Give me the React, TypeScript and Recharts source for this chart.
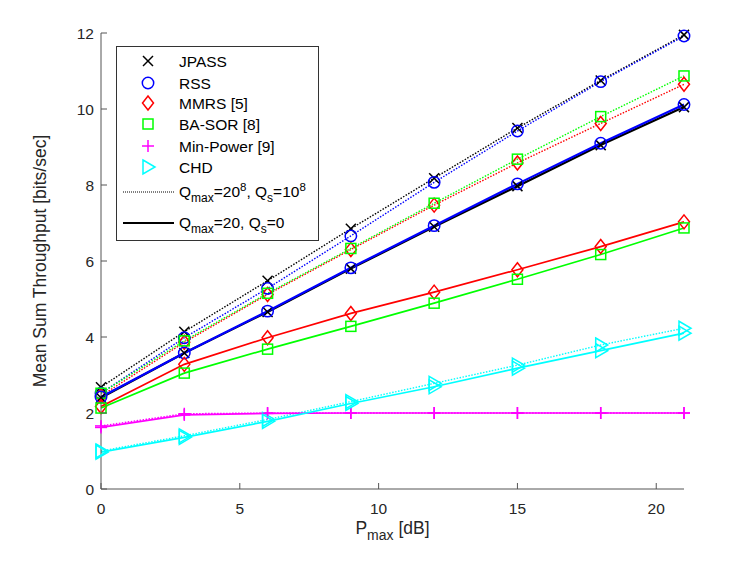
import { LineChart, Line, XAxis, YAxis, Legend, Label } from "recharts"

const pmax = [0, 3, 6, 9, 12, 15, 18, 21]

// dotted = Qmax=20^8, Qs=10^8 ; solid = Qmax=20, Qs=0
const jpassHi = [2.68, 4.14, 5.48, 6.85, 8.18, 9.5, 10.75, 11.95]
const jpassLo = [2.4, 3.58, 4.66, 5.8, 6.9, 7.97, 9.05, 10.05]
const rssHi = [2.52, 3.98, 5.28, 6.66, 8.07, 9.42, 10.72, 11.92]
const rssLo = [2.42, 3.58, 4.68, 5.82, 6.93, 8.03, 9.1, 10.12]
const mmrsHi = [2.45, 3.86, 5.12, 6.3, 7.47, 8.58, 9.62, 10.65]
const mmrsLo = [2.17, 3.28, 3.98, 4.62, 5.18, 5.77, 6.38, 7.03]
const basorHi = [2.52, 3.9, 5.15, 6.33, 7.52, 8.68, 9.8, 10.87]
const basorLo = [2.13, 3.05, 3.68, 4.28, 4.89, 5.52, 6.17, 6.87]
const minPowHi = [1.66, 1.98, 2.0, 2.0, 2.0, 2.0, 2.0, 2.0]
const minPowLo = [1.62, 1.95, 1.99, 2.0, 2.0, 2.0, 2.0, 2.0]
const chdHi = [1.0, 1.4, 1.83, 2.3, 2.78, 3.26, 3.79, 4.23]
const chdLo = [0.97, 1.36, 1.78, 2.25, 2.69, 3.18, 3.64, 4.1]

const xTicks = [0, 5, 10, 15, 20]
const yTicks = [0, 2, 4, 6, 8, 10, 12]

type Shape = "x" | "circle" | "diamond" | "square" | "plus" | "tri"

const series: { key: string; name: string; color: string; shape: Shape; hi: number[]; lo: number[] }[] = [
  { key: "jpass", name: "JPASS", color: "#000000", shape: "x", hi: jpassHi, lo: jpassLo },
  { key: "rss", name: "RSS", color: "#0000ff", shape: "circle", hi: rssHi, lo: rssLo },
  { key: "mmrs", name: "MMRS [5]", color: "#ff0000", shape: "diamond", hi: mmrsHi, lo: mmrsLo },
  { key: "basor", name: "BA-SOR [8]", color: "#00ff00", shape: "square", hi: basorHi, lo: basorLo },
  { key: "minpow", name: "Min-Power [9]", color: "#ff00ff", shape: "plus", hi: minPowHi, lo: minPowLo },
  { key: "chd", name: "CHD", color: "#00ffff", shape: "tri", hi: chdHi, lo: chdLo },
]

const data = pmax.map((p, i) => {
  const row: Record<string, number> = { p }
  series.forEach((s) => {
    row[s.key + "Hi"] = s.hi[i]
    row[s.key + "Lo"] = s.lo[i]
  })
  return row
})

const FONT = "'Liberation Sans', Arial, Helvetica, sans-serif"
const AXIS = "#555555"
const TEXT = "#262626"

function Marker({ cx, cy, shape, color }: { cx: number; cy: number; shape: Shape; color: string }) {
  const sw = 1.5
  switch (shape) {
    case "x":
      return (
        <g stroke={color} strokeWidth={sw} fill="none">
          <line x1={cx - 5} y1={cy - 5} x2={cx + 5} y2={cy + 5} />
          <line x1={cx - 5} y1={cy + 5} x2={cx + 5} y2={cy - 5} />
        </g>
      )
    case "circle":
      return <circle cx={cx} cy={cy} r={5.7} stroke={color} strokeWidth={sw} fill="none" />
    case "diamond":
      return (
        <polygon
          points={`${cx},${cy - 7} ${cx + 5.5},${cy} ${cx},${cy + 7} ${cx - 5.5},${cy}`}
          stroke={color}
          strokeWidth={sw}
          fill="none"
        />
      )
    case "square":
      return <rect x={cx - 5} y={cy - 5} width={10} height={10} stroke={color} strokeWidth={sw} fill="none" />
    case "plus":
      return (
        <g stroke={color} strokeWidth={sw}>
          <line x1={cx - 6} y1={cy} x2={cx + 6} y2={cy} />
          <line x1={cx} y1={cy - 6} x2={cx} y2={cy + 6} />
        </g>
      )
    default:
      return (
        <polygon
          points={`${cx - 5},${cy - 7} ${cx + 7},${cy} ${cx - 5},${cy + 7}`}
          stroke={color}
          strokeWidth={sw}
          fill="none"
        />
      )
  }
}

const makeDot = (shape: Shape, color: string) => (props: any) =>
  <Marker key={props.index} cx={props.cx} cy={props.cy} shape={shape} color={color} />

const BottomTick = ({ x, y, payload }: any) => (
  <g>
    <line x1={x} x2={x} y1={y - 9} y2={y - 15} stroke={AXIS} />
    <text x={x} y={y + 16} textAnchor="middle" fill={TEXT} fontSize={15.5} fontFamily={FONT}>
      {payload.value}
    </text>
  </g>
)

const LeftTick = ({ x, y, payload }: any) => (
  <g>
    <line x1={x + 7} x2={x + 13} y1={y} y2={y} stroke={AXIS} />
    <text x={x} y={y} dy="0.36em" textAnchor="end" fill={TEXT} fontSize={15.5} fontFamily={FONT}>
      {payload.value}
    </text>
  </g>
)

const TopTick = ({ x, y }: any) => <line x1={x} x2={x} y1={y} y2={y + 6} stroke={AXIS} />
const RightTick = ({ x, y }: any) => <line x1={x} x2={x - 6} y1={y} y2={y} stroke={AXIS} />

const XTitle = ({ viewBox }: any) => (
  <text x={viewBox.x + viewBox.width / 2} y={viewBox.y + 45} textAnchor="middle" fill={TEXT} fontSize={17.5} fontFamily={FONT}>
    P<tspan fontSize={14} dy={6}>max</tspan>
    <tspan dy={-6}> [dB]</tspan>
  </text>
)

const YTitle = ({ viewBox }: any) => {
  const cx = viewBox.x + 46
  const cy = viewBox.y + viewBox.height / 2
  return (
    <text x={cx} y={cy} transform={`rotate(-90 ${cx} ${cy})`} textAnchor="middle" fill={TEXT} fontSize={17.5} fontFamily={FONT}>
      Mean Sum Throughput [bits/sec]
    </text>
  )
}

function LegendBox() {
  const rows = [14, 36, 56, 77, 99, 120]
  return (
    <div style={{ width: 203, height: 195, border: "1px solid #333", background: "#fff", boxSizing: "border-box" }}>
      <svg width={201} height={193} style={{ display: "block", fontFamily: FONT }}>
        {series.map((s, i) => (
          <g key={s.key}>
            <Marker cx={31} cy={rows[i]} shape={s.shape} color={s.color} />
            <text x={62} y={rows[i]} dy="0.36em" fontSize={15.5} fill="#000">
              {s.name}
            </text>
          </g>
        ))}
        <line x1={6} x2={57} y1={145} y2={145} stroke="#000" strokeWidth={1.2} strokeDasharray="1 1" />
        <text x={62} y={150} fontSize={15.5} fill="#000">
          Q<tspan fontSize={12} dy={5}>max</tspan>
          <tspan dy={-5}>=20</tspan>
          <tspan fontSize={11.5} dy={-6}>8</tspan>
          <tspan dy={6}>, Q</tspan>
          <tspan fontSize={12} dy={5}>s</tspan>
          <tspan dy={-5}>=10</tspan>
          <tspan fontSize={11.5} dy={-6}>8</tspan>
        </text>
        <line x1={6} x2={57} y1={176} y2={176} stroke="#000" strokeWidth={1.8} />
        <text x={62} y={181} fontSize={15.5} fill="#000">
          Q<tspan fontSize={12} dy={5}>max</tspan>
          <tspan dy={-5}>=20, Q</tspan>
          <tspan fontSize={12} dy={5}>s</tspan>
          <tspan dy={-5}>=0</tspan>
        </text>
      </svg>
    </div>
  )
}

export default function App() {
  return (
    <div style={{ position: "absolute", left: 0, top: 0, width: 747, height: 561, background: "#fff" }}>
      <LineChart width={747} height={561} data={data} margin={{ top: 33, right: 63, left: 0, bottom: 0 }}>
        <XAxis
          dataKey="p"
          type="number"
          domain={[0, 21]}
          ticks={xTicks}
          height={72}
          tickSize={0}
          tickMargin={9}
          tick={<BottomTick />}
          axisLine={{ stroke: AXIS }}
          interval={0}
        >
          <Label content={<XTitle />} />
        </XAxis>
        <XAxis
          xAxisId="top"
          orientation="top"
          dataKey="p"
          type="number"
          domain={[0, 21]}
          ticks={xTicks}
          height={0}
          tickSize={0}
          tickMargin={0}
          tick={<TopTick />}
          axisLine={{ stroke: AXIS }}
          interval={0}
        />
        <YAxis
          type="number"
          domain={[0, 12]}
          ticks={yTicks}
          width={101}
          tickSize={0}
          tickMargin={7}
          tick={<LeftTick />}
          axisLine={{ stroke: AXIS }}
          interval={0}
        >
          <Label content={<YTitle />} />
        </YAxis>
        <YAxis
          yAxisId="right"
          orientation="right"
          type="number"
          domain={[0, 12]}
          ticks={yTicks}
          width={0}
          tickSize={0}
          tickMargin={0}
          tick={<RightTick />}
          axisLine={{ stroke: AXIS }}
          interval={0}
        />
        {series.map((s) => (
          <Line
            key={s.key + "Hi"}
            dataKey={s.key + "Hi"}
            stroke={s.color}
            strokeWidth={1.4}
            strokeDasharray="1.5 1.5"
            dot={makeDot(s.shape, s.color)}
            isAnimationActive={false}
            legendType="none"
          />
        ))}
        {series.map((s) => (
          <Line
            key={s.key + "Lo"}
            dataKey={s.key + "Lo"}
            stroke={s.color}
            strokeWidth={s.key === "jpass" || s.key === "rss" ? 2.2 : 1.7}
            dot={makeDot(s.shape, s.color)}
            isAnimationActive={false}
            legendType="none"
          />
        ))}
        <Legend
          layout="vertical"
          align="center"
          verticalAlign="middle"
          content={<LegendBox />}
          wrapperStyle={{ position: "absolute", left: 116, top: 46, width: 203, height: 195 }}
        />
      </LineChart>
    </div>
  )
}
